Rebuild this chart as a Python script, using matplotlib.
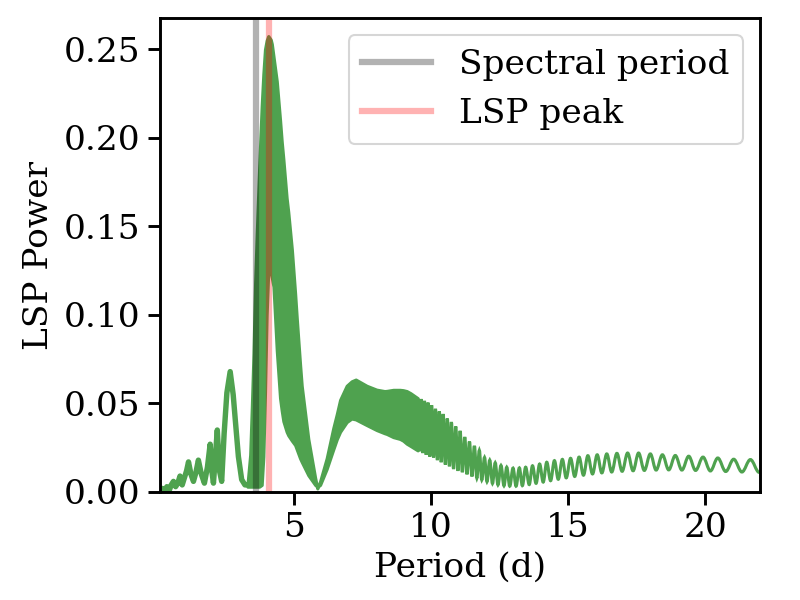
import numpy as np
import matplotlib
matplotlib.use("Agg")
import matplotlib.pyplot as plt
from matplotlib.path import Path
from matplotlib.patches import PathPatch

# values (period in days, LSP power)
spectral_period = 3.60
lsp_peak_period = 4.07

# short periods: separate small peaks
low_period = [0.12, 0.20, 0.30, 0.36, 0.45, 0.52, 0.60, 0.68, 0.76, 0.84, 0.92,
              1.00, 1.08, 1.15, 1.24, 1.33, 1.42, 1.51, 1.62, 1.73, 1.84, 1.94,
              2.00, 2.06, 2.13, 2.20, 2.28, 2.36, 2.45, 2.55, 2.67, 2.78, 2.85,
              2.97, 3.09, 3.21, 3.30]
low_power = [0.001, 0.002, 0.001, 0.003, 0.001, 0.004, 0.006, 0.003, 0.005, 0.009, 0.004,
             0.008, 0.012, 0.017, 0.010, 0.006, 0.011, 0.018, 0.010, 0.005, 0.014, 0.027,
             0.012, 0.005, 0.020, 0.035, 0.012, 0.006, 0.033, 0.056, 0.068, 0.055, 0.042,
             0.020, 0.007, 0.004, 0.004]

# dense oscillating part: upper and lower envelopes
band_period = [3.30, 3.40, 3.46, 3.52, 3.58, 3.64, 3.73, 3.82, 3.88, 3.94, 4.00,
               4.06, 4.07, 4.15, 4.19, 4.25, 4.37, 4.49, 4.55, 4.61, 4.73, 4.79,
               4.92, 5.04, 5.10, 5.22, 5.28, 5.52, 5.77, 5.85, 5.95, 6.19, 6.43,
               6.56, 6.68, 6.92, 7.10, 7.25, 7.65, 8.01, 8.30, 8.38, 8.62, 8.86,
               8.98, 9.11, 9.25, 9.51]
band_upper = [0.004, 0.021, 0.048, 0.078, 0.118, 0.146, 0.184, 0.218, 0.236, 0.250, 0.255,
              0.2575, 0.2573, 0.2555, 0.253, 0.246, 0.232, 0.210, 0.198, 0.188, 0.166, 0.158,
              0.137, 0.112, 0.098, 0.072, 0.060, 0.030, 0.008, 0.002, 0.006, 0.019, 0.036,
              0.044, 0.052, 0.060, 0.0625, 0.0635, 0.060, 0.0578, 0.0570, 0.0571, 0.0577, 0.0577,
              0.0575, 0.0570, 0.0558, 0.053]
band_lower = [0.003, 0.003, 0.003, 0.003, 0.003, 0.003, 0.003, 0.004, 0.020, 0.056, 0.100,
              0.125, 0.126, 0.124, 0.121, 0.116, 0.080, 0.053, 0.046, 0.040, 0.034, 0.032,
              0.029, 0.0265, 0.024, 0.019, 0.017, 0.0095, 0.004, 0.003, 0.004, 0.013, 0.024,
              0.0298, 0.034, 0.0395, 0.0415, 0.041, 0.0378, 0.035, 0.0332, 0.0328, 0.031, 0.030,
              0.029, 0.0273, 0.026, 0.0235]

# long periods: individual wiggles (peaks and troughs)
peak_period = [9.51, 9.63, 9.76, 9.89, 10.02, 10.16, 10.30, 10.44, 10.59, 10.74, 10.90,
               11.06, 11.23, 11.40, 11.58, 11.76, 11.95, 12.14, 12.34, 12.55, 12.76, 12.99,
               13.22, 13.45, 13.70, 13.96, 14.22, 14.50, 14.79, 15.09, 15.40, 15.72, 16.06,
               16.41, 16.78, 17.17, 17.57, 18.00, 18.44, 18.91, 19.40, 19.92, 20.46, 21.04,
               21.65]
peak_power = [0.053, 0.0525, 0.0515, 0.0505, 0.049, 0.047, 0.0455, 0.044, 0.0415, 0.0395, 0.037,
              0.0345, 0.031, 0.0285, 0.026, 0.0235, 0.0195, 0.018, 0.0165, 0.015, 0.014, 0.0135,
              0.0136, 0.014, 0.0148, 0.0158, 0.0168, 0.0177, 0.0184, 0.019, 0.0197, 0.0205, 0.021,
              0.0215, 0.0218, 0.022, 0.022, 0.0215, 0.021, 0.0206, 0.0202, 0.0197, 0.0192, 0.0185,
              0.0183]
trough_period = [9.57, 9.70, 9.82, 9.95, 10.09, 10.23, 10.37, 10.52, 10.67, 10.82, 10.98,
                 11.14, 11.31, 11.49, 11.67, 11.85, 12.04, 12.24, 12.44, 12.66, 12.87, 13.10,
                 13.33, 13.58, 13.83, 14.09, 14.36, 14.64, 14.93, 15.24, 15.56, 15.89, 16.23,
                 16.59, 16.97, 17.37, 17.78, 18.21, 18.67, 19.15, 19.65, 20.19, 20.75, 21.34,
                 21.97]
trough_power = [0.023, 0.022, 0.021, 0.020, 0.0195, 0.018, 0.0168, 0.0155, 0.0145, 0.013, 0.012,
                0.0112, 0.010, 0.0088, 0.0078, 0.0068, 0.0058, 0.0048, 0.0040, 0.0035, 0.0033, 0.0033,
                0.0036, 0.0042, 0.0049, 0.0056, 0.0064, 0.0072, 0.0080, 0.0088, 0.0095, 0.0102, 0.0108,
                0.0113, 0.0117, 0.0120, 0.0122, 0.0124, 0.0125, 0.0124, 0.0122, 0.0119, 0.0116, 0.0113,
                0.0111]

green = "#4fa24f"

plt.rcParams["font.family"] = "DejaVu Serif"
plt.rcParams["font.size"] = 16.5
plt.rcParams["axes.linewidth"] = 1.4

fig = plt.figure(figsize=(16 / 3, 4), dpi=150)
ax = fig.add_axes([0.2, 0.18, 0.75, 0.79])

ax.plot(low_period, low_power, color=green, lw=2.6, solid_joinstyle="round")
ax.fill_between(band_period, band_lower, band_upper, color=green, lw=1.5)

# smooth wiggles: cubic bezier between successive extremes (flat tangents)
ext = sorted(zip(peak_period + trough_period, peak_power + trough_power))
verts = [ext[0]]
codes = [Path.MOVETO]
for (x0, y0), (x1, y1) in zip(ext[:-1], ext[1:]):
    dx = x1 - x0
    verts += [(x0 + 0.36 * dx, y0), (x1 - 0.36 * dx, y1), (x1, y1)]
    codes += [Path.CURVE4] * 3
ax.add_patch(PathPatch(Path(verts, codes), fill=False, edgecolor=green, lw=1.5))

ax.axvline(spectral_period, color="k", alpha=0.3, lw=3, label="Spectral period")
ax.axvline(lsp_peak_period, color="r", alpha=0.3, lw=3, label="LSP peak")

ax.set_xlim(0.11, 22)
ax.set_ylim(0, 0.2677)
ax.set_xlabel("Period (d)")
ax.set_ylabel("LSP Power")
ax.tick_params(which="major", length=6, width=1.4)
ax.legend(loc="upper right")

fig.savefig("out.png", dpi=150)
